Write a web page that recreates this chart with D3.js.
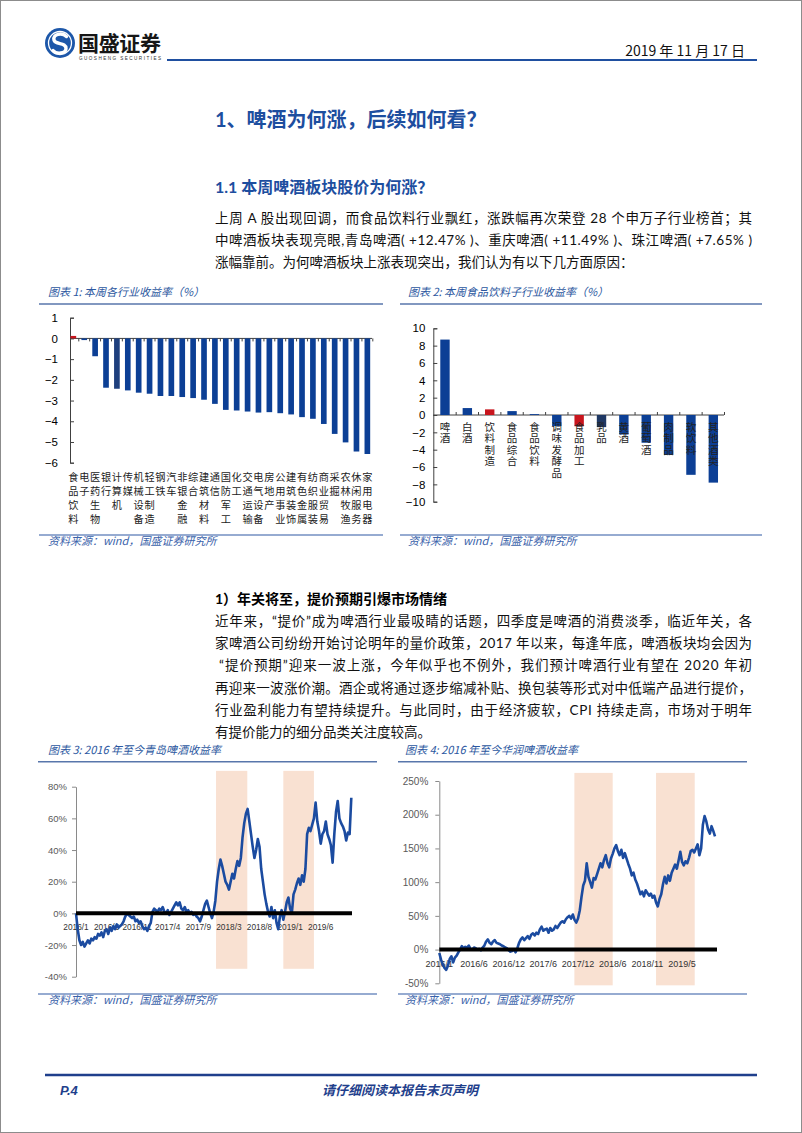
<!DOCTYPE html>
<html lang="zh">
<head>
<meta charset="UTF-8">
<title>啤酒为何涨，后续如何看</title>
<script src="https://d3js.org/d3.v7.min.js"></script>
<style>
  body { margin: 0; background: #fff; }
  svg { display: block; }
</style>
</head>
<body>
<svg id="page" width="802" height="1133"></svg>
<script>
// ---- data: chart 1, weekly return by SW industry (%)
const industries = ["食品饮料","电子","医药生物","银行","计算机","传媒","机械设备","轻工制造","钢铁","汽车",
  "非银金融","综合","建筑材料","通信","国防军工","化工","交通运输","电气设备","房地产","公用事业",
  "建筑装饰","有色金属","纺织服装","商业贸易","采掘","农林牧渔","休闲服务","家用电器"];
const industryReturns = [0.12,-0.08,-0.86,-2.38,-2.43,-2.51,-2.62,-2.67,-2.78,-2.78,
  -2.83,-2.88,-2.96,-3.16,-3.45,-3.48,-3.53,-3.58,-3.56,-3.61,
  -3.67,-3.80,-3.88,-4.13,-4.61,-5.02,-5.46,-5.58];
const industryTicks = [-6,-5,-4,-3,-2,-1,0,1];

// ---- data: chart 2, food & beverage sub-industries (%)
const foodSubs = ["啤酒","白酒","饮料制造","食品综合","食品饮料","调味发酵品","食品加工","乳品","黄酒","葡萄酒","肉制品","软饮料","其他酒类"];
const foodReturns = [8.7,0.8,0.65,0.45,0.1,-1.27,-1.3,-1.4,-2.25,-3.2,-4.6,-6.9,-7.8];
const foodTicks = [-10,-8,-6,-4,-2,0,2,4,6,8,10];

// ---- data: chart 3, Tsingtao cumulative return since 2016 (%)
const tsingtaoLabels = ["2016/1","2016/6","2016/11","2017/4","2017/9","2018/3","2018/8","2019/1","2019/6"];
const tsingtaoReturns = [0,-10,-17,-20,-18,-21,-19,-17,-19,-16,
  -17,-15,-16,-13,-14,-12,-15,-11,-10,-13,
  -9,-11,-8,-10,-7,-9,-8,-7,-5,-2,
  0,-1,-2,-3,-2,-5,-4,-6,-5,-8,
  -10,-9,-11,-8,-6,1,3,2,1,3,
  2,4,1,0,2,-1,1,3,5,7,
  5,7,3,2,4,1,2,0,1,-1,
  0,-2,-3,-5,-2,2,6,8,4,0,
  -3,1,8,20,28,34,30,25,20,18,
  15,20,25,22,28,33,30,35,48,57,
  63,66,58,50,42,35,40,47,42,28,
  20,12,6,1,-2,4,-3,2,-6,-10,
  -2,2,-4,1,7,10,3,0,12,15,
  19,22,18,24,20,28,50,54,52,56,
  60,70,58,52,44,50,52,58,50,47,
  43,32,50,64,71,60,57,55,52,46,
  51,50,73];
const tsingtaoTicks = [-40,-20,0,20,40,60,80];
const tsingtaoShades = [[82.4,100.8],[122,140]];

// ---- data: chart 4, China Resources Beer cumulative return since 2016 (%)
const crLabels = ["2016/1","2016/6","2016/12","2017/6","2017/12","2018/6","2018/11","2019/5"];
const crReturns = [-5,-15,-22,-27,-30,-24,-14,-10,-19,-12,
  -9,-4,0,5,2,4,3,6,1,0,
  3,2,0,1,-1,3,6,12,15,10,
  8,12,14,10,9,8,6,5,3,2,
  -1,-3,-2,0,-4,2,10,15,18,14,
  17,20,16,22,24,21,25,23,30,34,
  28,30,31,25,32,28,30,35,32,36,
  40,42,40,45,48,50,46,52,44,40,
  46,58,78,95,102,128,108,100,92,106,
  104,112,120,128,122,133,140,128,122,135,
  142,150,155,146,140,148,136,143,135,127,
  120,110,114,104,98,90,82,86,79,88,
  84,80,83,77,80,70,64,75,82,97,
  108,98,110,102,114,120,126,120,132,145,
  130,125,131,128,136,146,148,144,150,156,
  140,150,185,198,190,178,172,183,176,168];
const crTicks = [-50,0,50,100,150,200,250];
const crShades = [[77.9,100],[125,147.3]];

const BLUE_BAR = "#0c3f95", RED_BAR = "#c8151d", NAVY_BAR = "#1f3864";
const LINE_BLUE = "#1b4ba0", TITLE_BLUE = "#1d4e9f", CAP_BLUE = "#2b57a0";
const CJK = "'Noto Sans CJK SC', sans-serif";
const SANS = "'Liberation Sans', Arial, sans-serif";

const svg = d3.select("#page");

function txt(g, x, y, s, o) {
  const t = g.append("text").attr("x", x).attr("y", y).text(s);
  Object.entries(o || {}).forEach(([k, v]) => t.attr(k, v));
  return t;
}
function rule(g, xa, xb, y, color, w) {
  g.append("line").attr("x1", xa).attr("x2", xb).attr("y1", y).attr("y2", y)
    .attr("stroke", color).attr("stroke-width", w);
}

// page frame
svg.append("rect").attr("x", 0.5).attr("y", 0.5).attr("width", 801).attr("height", 1132)
  .attr("fill", "#fff").attr("stroke", "#8c8c8c");

// ---- header
const hdr = svg.append("g");
hdr.append("circle").attr("cx", 60).attr("cy", 43).attr("r", 15).attr("fill", "#1d57a9");
hdr.append("circle").attr("cx", 60).attr("cy", 43).attr("r", 11.5).attr("fill", "none")
  .attr("stroke", "#fff").attr("stroke-width", 1.3);
hdr.append("path").attr("d", "M66.5,36.5 C62,32 52.5,34 54,40 C55.5,45.5 66,41.5 66,48.5 C66,54 56,54.5 53,50.5")
  .attr("fill", "none").attr("stroke", "#fff").attr("stroke-width", 3.4).attr("stroke-linecap", "round");
txt(hdr, 78, 51, "国盛证券", {"font-family": CJK, "font-size": 21, "font-weight": "bold", fill: "#161616", textLength: 83});
txt(hdr, 79, 59.5, "GUOSHENG SECURITIES", {"font-family": SANS, "font-size": 4.6, fill: "#333", textLength: 82, lengthAdjust: "spacing"});
txt(hdr, 745, 56, "2019 年 11 月 17 日", {"font-family": "'Liberation Sans Narrow', " + CJK, "font-size": 14, fill: "#111", "text-anchor": "end"});
rule(hdr, 167, 757, 60, "#1f4fa0", 2);

// ---- headings and body text
const body = svg.append("g").attr("font-family", "Lato, " + CJK).attr("fill", "#111");
txt(body, 215, 127, "1、啤酒为何涨，后续如何看？", {"font-size": 20, "font-weight": "bold", fill: TITLE_BLUE});
txt(body, 215, 193, "1.1 本周啤酒板块股价为何涨？", {"font-size": 16, "font-weight": "bold", fill: TITLE_BLUE});

const para1 = [
  "上周 A 股出现回调，而食品饮料行业飘红，涨跌幅再次荣登 28 个申万子行业榜首；其",
  "中啤酒板块表现亮眼,青岛啤酒( +12.47% )、重庆啤酒( +11.49% )、珠江啤酒( +7.65% )",
  "涨幅靠前。为何啤酒板块上涨表现突出，我们认为有以下几方面原因："
];
para1.forEach((s, i) => {
  const t = txt(body, 215, 223 + i * 22, s, {"font-size": 13.5});
  if (i < para1.length - 1) t.attr("textLength", 537).attr("lengthAdjust", "spacing");
});

txt(body, 215, 604, "1）年关将至，提价预期引爆市场情绪", {"font-size": 14, "font-weight": "bold", fill: "#000"});
const para2 = [
  "近年来，“提价”成为啤酒行业最吸睛的话题，四季度是啤酒的消费淡季，临近年关，各",
  "家啤酒公司纷纷开始讨论明年的量价政策，2017 年以来，每逢年底，啤酒板块均会因为",
  "“提价预期”迎来一波上涨，今年似乎也不例外，我们预计啤酒行业有望在 2020 年初",
  "再迎来一波涨价潮。酒企或将通过逐步缩减补贴、换包装等形式对中低端产品进行提价，",
  "行业盈利能力有望持续提升。与此同时，由于经济疲软，CPI 持续走高，市场对于明年",
  "有提价能力的细分品类关注度较高。"
];
para2.forEach((s, i) => {
  const x = i === 2 ? 219 : 215;
  const t = txt(body, x, 626 + i * 22.2, s, {"font-size": 13.5});
  if (i < para2.length - 1) t.attr("textLength", 752 - x).attr("lengthAdjust", "spacing");
});

// ---- chart frame helpers (caption, rules, source)
function frame(x0, x1, titleX, titleY, title, topRule, srcRule, srcY) {
  const g = svg.append("g");
  txt(g, titleX, titleY, title, {"font-family": CJK, "font-size": 11, "font-style": "italic", fill: CAP_BLUE});
  rule(g, x0, x1, topRule, "#5876ab", 1.6);
  rule(g, x0, x1, srcRule, "#2f58a3", 1.1);
  txt(g, titleX, srcY, "资料来源：wind，国盛证券研究所", {"font-family": CJK, "font-size": 11, "font-style": "italic", fill: "#3a62aa"});
  return g;
}

function styleAxis(ax, size, color, family) {
  ax.selectAll("path,line").attr("stroke", color);
  ax.selectAll("text").attr("font-family", family).attr("font-size", size).attr("fill", "#000");
}

// stacked category label, one character per row
function vlabel(g, cx, y0, s, size, step) {
  Array.from(s).forEach((ch, j) => {
    txt(g, cx, y0 + j * step, ch, {"font-family": CJK, "font-size": size, fill: "#222",
      "text-anchor": "middle", "dominant-baseline": "central"});
  });
}

// ---- chart 1
frame(39, 383, 48, 295.5, "图表 1: 本周各行业收益率（%）", 304, 535, 544.5);
const c1 = svg.append("g");
const x1 = d3.scaleBand().domain(industries).range([67.9, 372.8]).paddingInner(0.48).paddingOuter(0.24);
const y1 = d3.scaleLinear().domain([-6, 1]).range([462.7, 317.7]);
const ax1 = c1.append("g").attr("transform", "translate(70,0)")
  .call(d3.axisLeft(y1).tickValues(industryTicks).tickFormat(d3.format("d")).tickSizeInner(-4).tickSizeOuter(-4).tickPadding(12));
styleAxis(ax1, 11.5, "#404040", SANS);
rule(c1, 70, 372, y1(0), "#404040", 1);
d3.range(industries.length + 1).forEach(i => {
  const bx = x1.range()[0] + x1.step() * i;
  if (bx > 70.5) c1.append("line").attr("x1", bx).attr("x2", bx).attr("y1", y1(0)).attr("y2", y1(0) + 3)
    .attr("stroke", "#404040");
});
c1.selectAll("rect.bar").data(industries).join("rect")
  .attr("x", d => x1(d)).attr("width", x1.bandwidth())
  .attr("y", (d, i) => y1(Math.max(0, industryReturns[i])))
  .attr("height", (d, i) => Math.max(1.5, Math.abs(y1(industryReturns[i]) - y1(0))))
  .attr("fill", (d, i) => i === 0 ? RED_BAR : (i === 4 ? "#1e3f7d" : BLUE_BAR));
industries.forEach(name => vlabel(c1, x1(name) + x1.bandwidth() / 2, 476.7, name, 10.2, 14));

// ---- chart 2
frame(400, 762, 408, 295.5, "图表 2: 本周食品饮料子行业收益率（%）", 304, 535, 544.5);
const c2 = svg.append("g");
const x2 = d3.scaleBand().domain(foodSubs).range([433.8, 724.5]).paddingInner(0.58).paddingOuter(0.29);
const y2 = d3.scaleLinear().domain([-10, 10]).range([501.7, 328.3]);
const ax2 = c2.append("g").attr("transform", "translate(433.3,0)")
  .call(d3.axisLeft(y2).tickValues(foodTicks).tickFormat(d3.format("d")).tickSizeInner(-4).tickSizeOuter(-4).tickPadding(8));
styleAxis(ax2, 11.5, "#404040", SANS);
rule(c2, 433.3, 724, y2(0), "#404040", 1);
d3.range(1, foodSubs.length + 1).forEach(i => {
  const bx = x2.range()[0] + x2.step() * i;
  c2.append("line").attr("x1", bx).attr("x2", bx).attr("y1", y2(0)).attr("y2", y2(0) - 3).attr("stroke", "#404040");
});
c2.selectAll("rect.bar").data(foodSubs).join("rect")
  .attr("x", d => x2(d)).attr("width", x2.bandwidth())
  .attr("y", (d, i) => y2(Math.max(0, foodReturns[i])))
  .attr("height", (d, i) => Math.abs(y2(foodReturns[i]) - y2(0)))
  .attr("fill", (d, i) => (i === 2 || i === 6) ? RED_BAR : (i === 7 ? NAVY_BAR : BLUE_BAR));
foodSubs.forEach(name => vlabel(c2, x2(name) + x2.bandwidth() / 2, 426, name, 10.5, 11.6));

// ---- line charts 3 and 4
function lineChart(cfg) {
  const g = svg.append("g");
  const x = d3.scaleLinear().domain([0, cfg.values.length - 1]).range(cfg.xRange);
  const y = d3.scaleLinear().domain(cfg.yDomain).range(cfg.yRange);
  g.selectAll("rect.shade").data(cfg.shades).join("rect")
    .attr("x", d => x(d[0])).attr("width", d => x(d[1]) - x(d[0]))
    .attr("y", y(cfg.shadeSpan[1])).attr("height", y(cfg.shadeSpan[0]) - y(cfg.shadeSpan[1]))
    .attr("fill", "#f9e1d2");
  const ax = g.append("g").attr("transform", `translate(${cfg.xRange[0]},0)`)
    .call(d3.axisLeft(y).tickValues(cfg.yTicks).tickFormat(d => d + "%").tickSizeInner(4).tickSizeOuter(0).tickPadding(cfg.pad));
  ax.selectAll("path,line").attr("stroke", "#8a8a8a");
  ax.selectAll("text").attr("font-family", SANS).attr("font-size", cfg.font).attr("fill", "#595959");
  cfg.labels.forEach((s, i) => {
    txt(g, x(i * cfg.every), cfg.labelY, s, {"font-family": SANS, "font-size": cfg.labelFont, fill: "#333", "text-anchor": "middle"});
  });
  g.append("path").datum(cfg.values)
    .attr("d", d3.line().x((d, i) => x(i)).y(d => y(d)))
    .attr("fill", "none").attr("stroke", LINE_BLUE).attr("stroke-width", 2.6).attr("stroke-linejoin", "round");
  rule(g, cfg.xRange[0], cfg.zeroEnd, y(0), "#000", 4);
}

frame(38, 377, 48, 754, "图表 3: 2016 年至今青岛啤酒收益率", 761.7, 994, 1004);
lineChart({values: tsingtaoReturns, labels: tsingtaoLabels, every: 18, shades: tsingtaoShades, shadeSpan: [-35, 90],
  xRange: [76, 351.3], yDomain: [-40, 80], yRange: [976.7, 786.7], yTicks: tsingtaoTicks,
  pad: 5, font: 9.5, labelFont: 8.3, labelY: 929.5, zeroEnd: 352});

frame(398, 747, 405, 754, "图表 4: 2016 年至今华润啤酒收益率", 761.7, 994, 1004);
lineChart({values: crReturns, labels: crLabels, every: 20, shades: crShades, shadeSpan: [-53, 262],
  xRange: [439.3, 715], yDomain: [-50, 250], yRange: [983.3, 781], yTicks: crTicks,
  pad: 7, font: 10, labelFont: 9, labelY: 966.5, zeroEnd: 717});

// ---- footer
const ftr = svg.append("g");
rule(ftr, 45, 757, 1075, "#1f3f8c", 2.5);
txt(ftr, 60, 1095, "P.4", {"font-family": SANS, "font-size": 13, "font-weight": "bold", "font-style": "italic", fill: "#1f3f8c"});
txt(ftr, 400, 1095, "请仔细阅读本报告末页声明", {"font-family": CJK, "font-size": 13, "font-weight": "bold", "font-style": "italic", fill: "#1f3f8c", "text-anchor": "middle"});
</script>
</body>
</html>
